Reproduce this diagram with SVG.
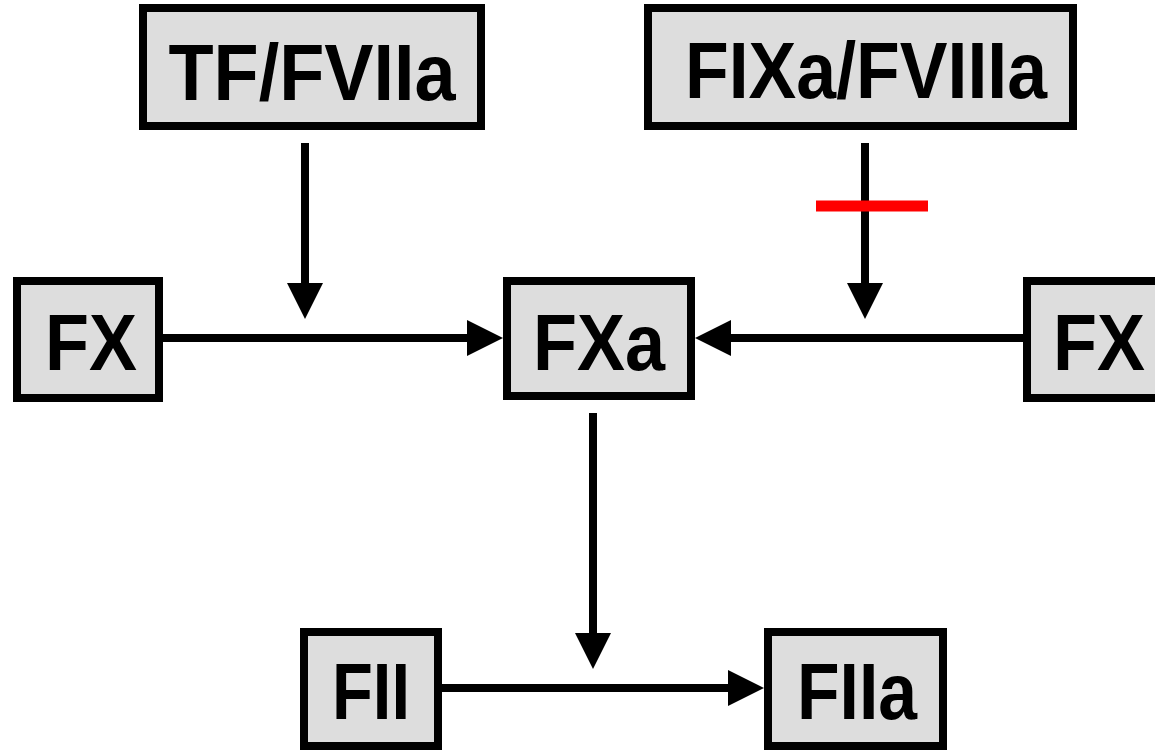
<svg xmlns="http://www.w3.org/2000/svg" width="1155" height="751" viewBox="0 0 1155 751">
<style>
.box{fill:#dddddd;stroke:#000;stroke-width:8}
.lbl{font-family:"Liberation Sans",Arial,sans-serif;font-weight:bold;font-size:80px;fill:#000;text-anchor:middle}
.con{stroke:#000;stroke-width:8;fill:none}
</style>
<defs>
<marker id="ah" markerUnits="userSpaceOnUse" markerWidth="36" markerHeight="36" refX="0" refY="18" orient="auto" viewBox="0 0 36 36">
<path d="M0,0 L36,18 L0,36 Z" fill="#000"/>
</marker>
</defs>
<rect width="1155" height="751" fill="#fff"/>
<g id="connectors">
<line class="con" x1="305" y1="143" x2="305" y2="283" marker-end="url(#ah)"/>
<line class="con" x1="163" y1="338" x2="467" y2="338" marker-end="url(#ah)"/>
<line class="con" x1="865" y1="143" x2="865" y2="283" marker-end="url(#ah)"/>
<line x1="816" y1="206" x2="928" y2="206" stroke="#ff0000" stroke-width="11"/>
<line class="con" x1="1023" y1="338" x2="731" y2="338" marker-end="url(#ah)"/>
<line class="con" x1="593" y1="413" x2="593" y2="633" marker-end="url(#ah)"/>
<line class="con" x1="442" y1="688" x2="728" y2="688" marker-end="url(#ah)"/>
</g>
<g id="tf">
<rect class="box" x="143" y="8" width="338" height="118"/>
<text class="lbl" x="312" y="100" textLength="287" lengthAdjust="spacingAndGlyphs">TF/FVIIa</text>
</g>
<g id="fixa">
<rect class="box" x="648" y="8" width="425" height="118"/>
<text class="lbl" x="866" y="98" textLength="362" lengthAdjust="spacingAndGlyphs">FIXa/FVIIIa</text>
</g>
<g id="fx-left">
<rect class="box" x="17" y="281" width="142" height="117"/>
<text class="lbl" x="91" y="370" textLength="92" lengthAdjust="spacingAndGlyphs">FX</text>
</g>
<g id="fxa">
<rect class="box" x="507" y="281" width="184" height="115"/>
<text class="lbl" x="599" y="370" textLength="132" lengthAdjust="spacingAndGlyphs">FXa</text>
</g>
<g id="fx-right">
<rect class="box" x="1027" y="281" width="150" height="117"/>
<text class="lbl" x="1099" y="370" textLength="92" lengthAdjust="spacingAndGlyphs">FX</text>
</g>
<g id="fii">
<rect class="box" x="304" y="632" width="134" height="114"/>
<text class="lbl" x="371" y="719" textLength="78" lengthAdjust="spacingAndGlyphs">FII</text>
</g>
<g id="fiia">
<rect class="box" x="768" y="632" width="175" height="114"/>
<text class="lbl" x="857" y="719" textLength="120" lengthAdjust="spacingAndGlyphs">FIIa</text>
</g>
</svg>
